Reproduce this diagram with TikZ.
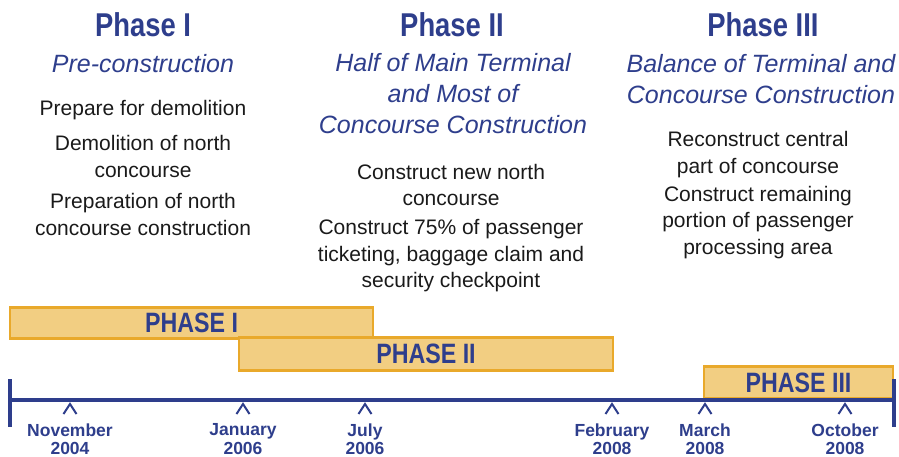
\documentclass[tikz,border=0pt]{standalone}
\usepackage{fontspec}
\setmainfont{Liberation Sans}
\newfontfamily\condfont{Liberation Sans}[FakeStretch=0.83]

\definecolor{phaseblue}{HTML}{2E3E8C}
\definecolor{barfill}{HTML}{F2CE82}
\definecolor{barline}{HTML}{E9A92B}
\definecolor{bodyblack}{HTML}{1A1A1A}

\tikzset{
	head/.style = {text=phaseblue, font=\condfont\bfseries\fontsize{33}{36}\selectfont},
	sub/.style = {text=phaseblue, align=center, font=\itshape\fontsize{25}{31}\selectfont},
	item/.style = {text=bodyblack, align=center, font=\fontsize{21}{26.5}\selectfont},
	bar/.style = {draw=barline, fill=barfill, line width=2.5pt, inner sep=0pt,
		text=phaseblue, font=\condfont\bfseries\fontsize{28}{30}\selectfont},
	date/.style = {text=phaseblue, align=center, font=\bfseries\fontsize{17.5}{18.5}\selectfont},
	caret/.style = {draw=phaseblue, line width=2pt},
	axis/.style = {draw=phaseblue, line width=4pt}
}

\begin{document}
\begin{tikzpicture}[x = 1pt, y = -1pt]
	\useasboundingbox (0,0) rectangle (899,457);

	% phase I column
	\node[head] (headI) at (143,25) {Phase I};
	\node[sub]  (subI)  at (143,64) {Pre-construction};
	\node[item] (itemIa) at (143,110) {Prepare for demolition};
	\node[item] (itemIb) at (143,156.5) {Demolition of north\\concourse};
	\node[item] (itemIc) at (143,214.5) {Preparation of north\\concourse construction};

	% phase II column
	\node[head] (headII) at (452,25) {Phase II};
	\node[sub]  (subII)  at (453,94) {Half of Main Terminal\\and Most of\\Concourse Construction};
	\node[item] (itemIIa) at (451,185) {Construct new north\\concourse};
	\node[item] (itemIIb) at (451,256) {Construct 75\% of passenger\\ticketing, baggage claim and\\security checkpoint};

	% phase III column
	\node[head] (headIII) at (763,25) {Phase III};
	\node[sub]  (subIII)  at (761,79) {Balance of Terminal and\\Concourse Construction};
	\node[item] (itemIIIa) at (758,154.5) {Reconstruct central\\part of concourse};
	\node[item] (itemIIIb) at (758,222.5) {Construct remaining\\portion of passenger\\processing area};

	% phase bars
	\node[bar, minimum width=363, minimum height=31] (barI)   at (191.5,323) {PHASE I};
	\node[bar, minimum width=374, minimum height=33] (barII)  at (426,354) {PHASE II};
	\node[bar, minimum width=189, minimum height=32] (barIII) at (798.5,382.5) {PHASE III};

	% time axis
	\coordinate (axL) at (10,400);
	\coordinate (axR) at (894,400);
	\draw[axis] (axL) -- (axR);
	\draw[axis] ([yshift=21pt]axL) -- ([yshift=-27pt]axL);
	\draw[axis] ([yshift=21pt]axR) -- ([yshift=-27pt]axR);

	% ticks and dates
	\foreach \x/\n/\m/\yr in {70/nov/November/2004, 243/jan/January/2006, 365/jul/July/2006,
		612/feb/February/2008, 705/mar/March/2008, 845/oct/October/2008}
	{
		\coordinate (t\n) at (\x,404);
		\draw[caret] ([xshift=-6.5pt,yshift=-10pt]t\n) -- (t\n) -- ([xshift=6.5pt,yshift=-10pt]t\n);
		\node[date] (d\n) at (\x,439) {\m\\\yr};
	}

\end{tikzpicture}
\end{document}
